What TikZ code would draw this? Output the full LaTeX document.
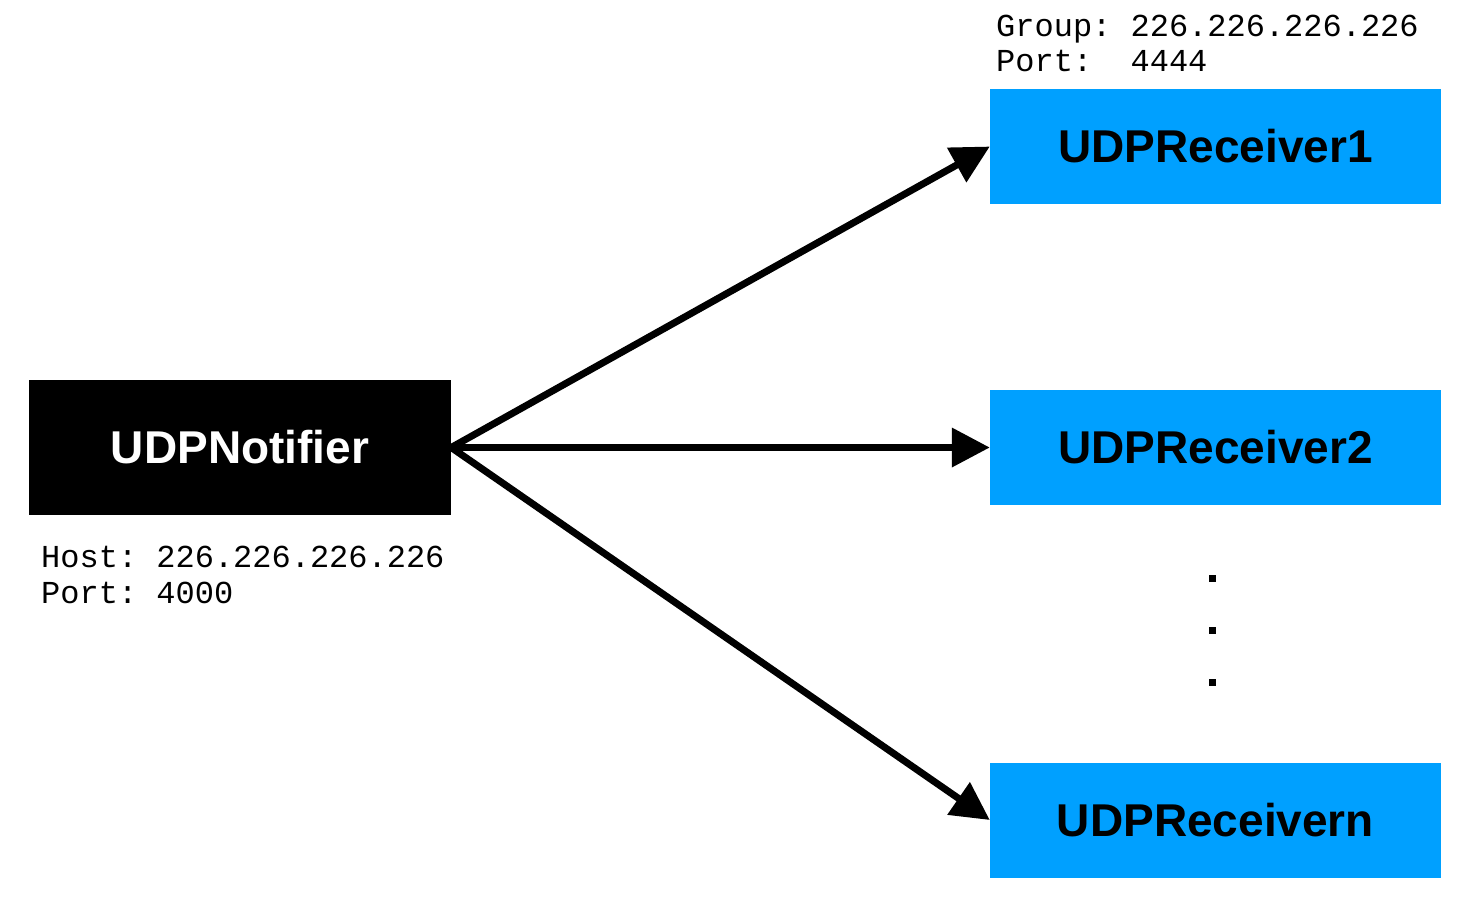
\documentclass[tikz,border=0pt]{standalone}
\usepackage{fontspec}
\setmainfont{Liberation Sans}
\newfontfamily\labmono{Liberation Mono}
\usetikzlibrary{arrows.meta}
\definecolor{recvblue}{RGB}{0,160,255}
\frenchspacing
\begin{document}
\begin{tikzpicture}[x=1pt,y=-1pt,
  boxbase/.style={rectangle, inner sep=0pt, draw=none, font=\fontsize{46pt}{50pt}\selectfont\bfseries},
  notifierbox/.style={boxbase, fill=black, text=white, minimum width=422pt, minimum height=135pt},
  recvbox/.style={boxbase, fill=recvblue, text=black, minimum width=451pt, minimum height=115pt},
  monolab/.style={anchor=base west, inner sep=0pt, font=\labmono\fontsize{32pt}{36pt}\selectfont},
  dotsq/.style={rectangle, fill=black, minimum size=7pt, inner sep=0pt},
  arr/.style={line width=7pt, -{Triangle[length=38pt,width=38pt]}}
]
\useasboundingbox (0,0) rectangle (1472,898);

\node[notifierbox] (n) at (240,447.5) {UDPNotifier};
\node[recvbox] (r1) at (1215.5,146.5) {UDPReceiver1};
\node[recvbox] (r2) at (1215.5,447.5) {UDPReceiver2};
\node[recvbox] (rn) at (1215.5,820) {UDPReceivern};

\node[monolab] (h1) at (41,567) {Host: 226.226.226.226};
\node[monolab] (h2) at (41,603) {Port: 4000};
\node[monolab] (g1) at (996,36) {Group: 226.226.226.226};
\node[monolab] (g2) at (996,71) {Port:\ \ 4444};

\node[dotsq] (d1) at (1212,578) {};
\node[dotsq] (d2) at (1212,630) {};
\node[dotsq] (d3) at (1212,682) {};

\draw[arr] (n.east) -- (r1.west);
\draw[arr] (n.east) -- (r2.west);
\draw[arr] (n.east) -- (rn.west);
\end{tikzpicture}
\end{document}
